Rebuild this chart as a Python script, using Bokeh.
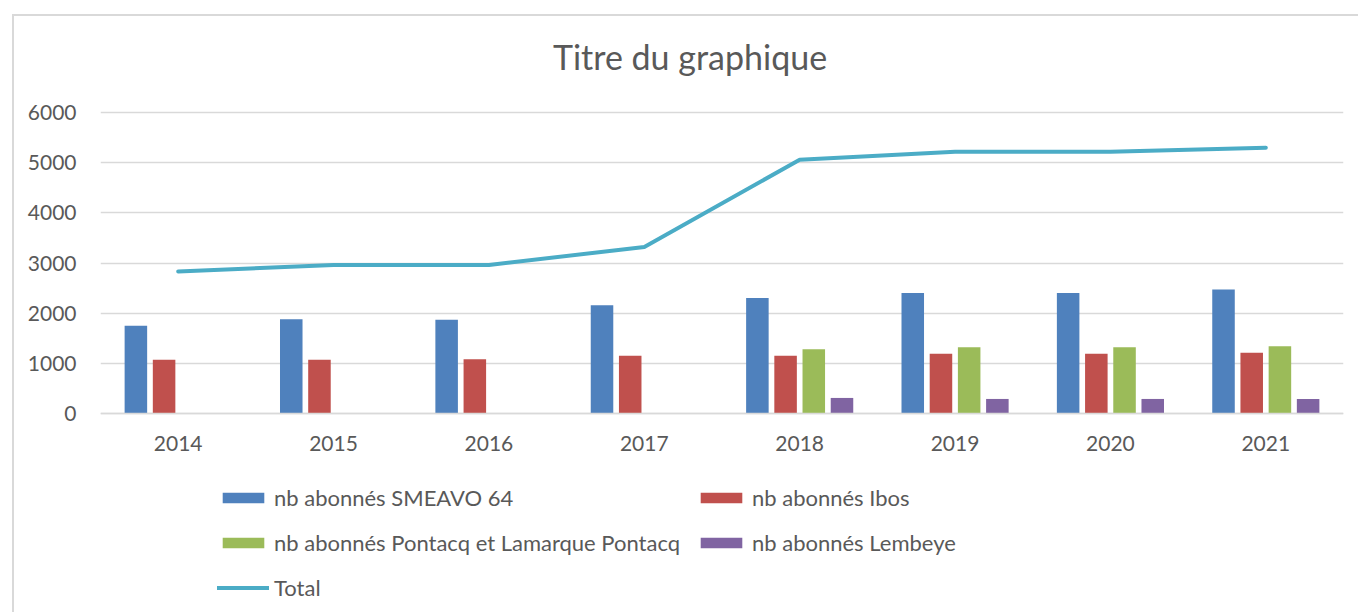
import math
from bokeh.plotting import figure
from bokeh.layouts import column, row
from bokeh.models import (ColumnDataSource, FactorRange, Range1d, Legend, LegendItem,
                          FixedTicker, CategoricalAxis, Spacer, Label)
from bokeh.transform import dodge
from bokeh.embed import file_html
from bokeh.resources import INLINE

nan = float("nan")

# ---- data ----
years = ["2014", "2015", "2016", "2017", "2018", "2019", "2020", "2021"]
smeavo = [1750, 1880, 1870, 2160, 2300, 2400, 2400, 2470]
ibos = [1070, 1070, 1080, 1150, 1150, 1190, 1190, 1210]
pontacq = [nan, nan, nan, nan, 1280, 1320, 1320, 1340]
lembeye = [nan, nan, nan, nan, 310, 290, 290, 290]
total = [2830, 2960, 2960, 3320, 5060, 5220, 5220, 5300]
y_ticks = [0, 1000, 2000, 3000, 4000, 5000, 6000]

title_text = "Titre du graphique"
labels = ["nb abonnés SMEAVO 64", "nb abonnés Ibos",
          "nb abonnés Pontacq et Lamarque Pontacq", "nb abonnés Lembeye", "Total"]
colors = ["#4F81BD", "#C0504D", "#9BBB59", "#8064A2", "#4BACC6"]

FONT = "Lato"
TXT = "#595959"
GRID = "#d9d9d9"

src = ColumnDataSource(dict(years=years, smeavo=smeavo, ibos=ibos,
                            pontacq=pontacq, lembeye=lembeye, total=total))

# plot frame spans the whole chart height; only 0..6000 carries ticks/grid
p = figure(width=1346, height=598, x_range=FactorRange(*years, range_padding=0),
           y_range=Range1d(-4007, 7914), output_backend="svg", toolbar_location=None,
           x_axis_location=None,
           min_border_left=86, min_border_right=17, min_border_top=0, min_border_bottom=0)
p.styles = {"border-left": "2px solid #d9d9d9", "border-top": "2px solid #d9d9d9"}
p.outline_line_color = None
p.background_fill_color = "white"
p.border_fill_color = "white"

step = 0.1815
bw = 0.145
fields = ["smeavo", "ibos", "pontacq", "lembeye"]
renderers = []
for i, f in enumerate(fields):
    r = p.vbar(x=dodge("years", (i - 1.5) * step, range=p.x_range), top=f, width=bw,
               source=src, fill_color=colors[i], line_color=None)
    renderers.append(r)

lr = p.line(x="years", y="total", source=src, line_color=colors[4], line_width=4,
            line_cap="round", line_join="round")
renderers.append(lr)

p.yaxis.ticker = FixedTicker(ticks=y_ticks)
p.xgrid.grid_line_color = None
p.ygrid.grid_line_color = GRID
p.ygrid.grid_line_width = 1.5

xaxis = CategoricalAxis(fixed_location=0)
p.add_layout(xaxis, "below")

for ax in (xaxis, p.yaxis[0]):
    ax.major_tick_line_color = None
    ax.minor_tick_line_color = None
    ax.major_label_text_font = FONT
    ax.major_label_text_font_size = "21px"
    ax.major_label_text_color = TXT
p.yaxis.axis_line_color = None
p.yaxis.major_label_standoff = 18
xaxis.axis_line_color = GRID
xaxis.axis_line_width = 1.5
xaxis.major_label_standoff = 17

# title centred over the chart area (frame centre is synthetic x = len(years)/2)
title = Label(x=len(years) / 2, y=y_ticks[-1], x_offset=-32, y_offset=56, text=title_text,
              text_align="center", text_baseline="alphabetic",
              text_font=FONT, text_font_size="34px", text_color=TXT)
p.add_layout(title)

legend = Legend(items=[LegendItem(label=labels[i], renderers=[renderers[i]]) for i in range(5)],
                orientation="horizontal", ncols=2, location=(117, 8),
                glyph_width=52, glyph_height=13, label_standoff=5, spacing=8,
                label_height=37, label_width=413, padding=0, margin=0,
                label_text_font=FONT, label_text_font_size="22px", label_text_color=TXT,
                border_line_color=None, background_fill_alpha=0)
p.add_layout(legend, "center")

layout = column(Spacer(height=14), row(Spacer(width=12), p))
open("out.html", "w").write(file_html(layout, INLINE))
